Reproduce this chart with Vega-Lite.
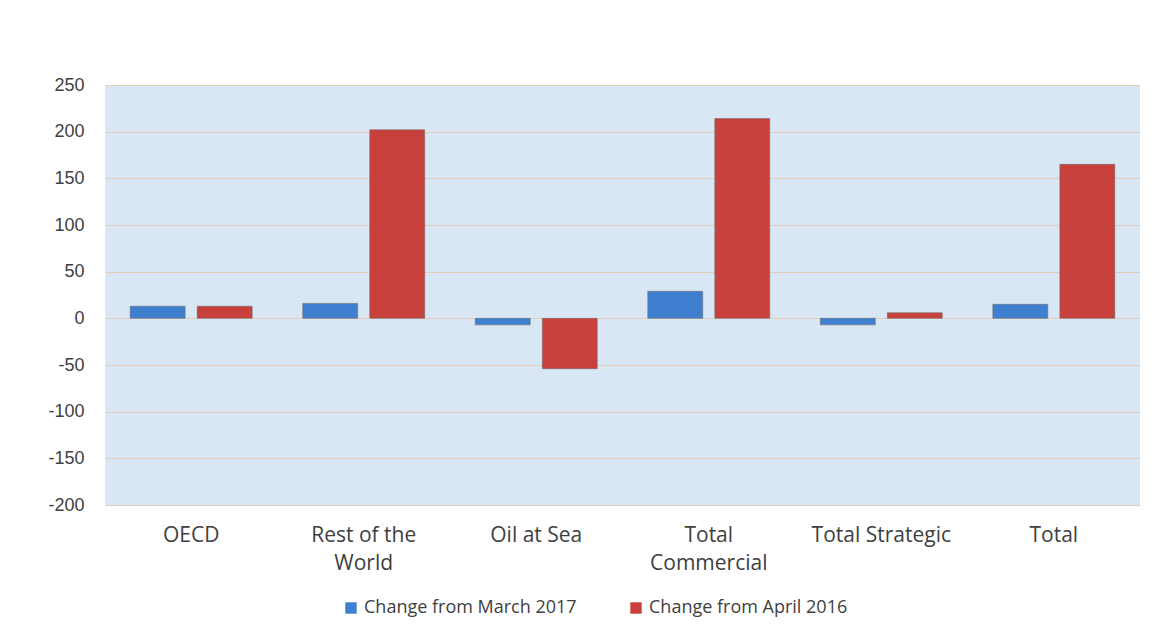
{
  "$schema": "https://vega.github.io/schema/vega-lite/v6.json",
  "autosize": {"type": "fit", "contains": "padding"},
  "width": 1174,
  "height": 639,
  "padding": {"left": 47, "top": 76, "right": 34, "bottom": 66},
  "background": "#ffffff",
  "config": {
    "view": {"fill": "#d9e7f5", "stroke": null},
    "font": "Open Sans"
  },
  "data": {
    "values": [
      {"category": "OECD", "series": "Change from March 2017", "value": 13},
      {"category": "OECD", "series": "Change from April 2016", "value": 13},
      {"category": "Rest of the World", "series": "Change from March 2017", "value": 16},
      {"category": "Rest of the World", "series": "Change from April 2016", "value": 202},
      {"category": "Oil at Sea", "series": "Change from March 2017", "value": -7},
      {"category": "Oil at Sea", "series": "Change from April 2016", "value": -54},
      {"category": "Total Commercial", "series": "Change from March 2017", "value": 29},
      {"category": "Total Commercial", "series": "Change from April 2016", "value": 214},
      {"category": "Total Strategic", "series": "Change from March 2017", "value": -7},
      {"category": "Total Strategic", "series": "Change from April 2016", "value": 6},
      {"category": "Total", "series": "Change from March 2017", "value": 15},
      {"category": "Total", "series": "Change from April 2016", "value": 165}
    ]
  },
  "mark": {"type": "bar", "stroke": "#6b6b6b", "strokeWidth": 0.8, "strokeOpacity": 0.7},
  "encoding": {
    "x": {
      "field": "category",
      "type": "nominal",
      "sort": null,
      "scale": {"paddingInner": 0.293, "paddingOuter": 0.146},
      "axis": {
        "title": null,
        "labelAngle": 0,
        "domain": false,
        "ticks": false,
        "labelFont": "Open Sans",
        "labelFontSize": 21,
        "labelColor": "#404040",
        "labelPadding": 19,
        "labelLineHeight": 28,
        "labelExpr": "datum.value == 'Rest of the World' ? ['Rest of the', 'World'] : datum.value == 'Total Commercial' ? ['Total', 'Commercial'] : datum.value"
      }
    },
    "xOffset": {
      "field": "series",
      "type": "nominal",
      "sort": ["Change from March 2017", "Change from April 2016"],
      "scale": {"paddingInner": 0.18}
    },
    "y": {
      "field": "value",
      "type": "quantitative",
      "scale": {"domain": [-200, 250], "nice": false},
      "axis": {
        "title": null,
        "values": [-200, -150, -100, -50, 0, 50, 100, 150, 200, 250],
        "labelExpr": "toString(datum.value)",
        "domain": false,
        "ticks": false,
        "grid": true,
        "gridColor": "#e3cdb8",
        "gridWidth": 1.2,
        "labelFont": "Liberation Sans",
        "labelFontSize": 18,
        "labelColor": "#404040",
        "labelPadding": 21
      }
    },
    "color": {
      "field": "series",
      "type": "nominal",
      "sort": ["Change from March 2017", "Change from April 2016"],
      "scale": {
        "domain": ["Change from March 2017", "Change from April 2016"],
        "range": ["#3f7fcf", "#c8403c"]
      },
      "legend": {
        "title": null,
        "orient": "none",
        "legendX": 237,
        "legendY": 514,
        "direction": "horizontal",
        "symbolType": "square",
        "symbolSize": 130,
        "symbolStrokeWidth": 0,
        "labelFont": "Open Sans",
        "labelFontSize": 18,
        "labelLimit": 0,
        "labelColor": "#404040",
        "columnPadding": 50,
        "labelOffset": 4
      }
    }
  }
}
